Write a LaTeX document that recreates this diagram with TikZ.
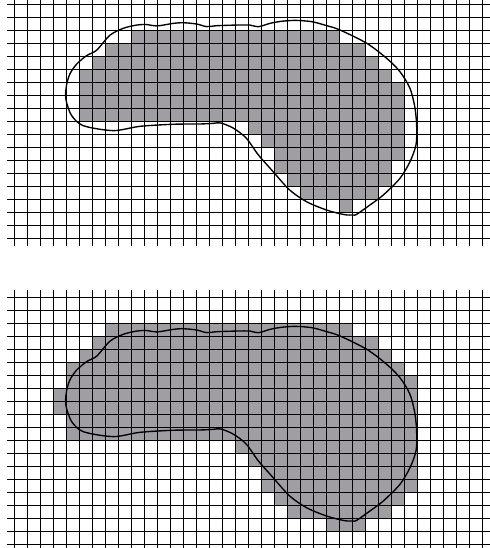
\documentclass[tikz,border=0pt]{standalone}
\usepackage{xcolor}
\definecolor{cellgray}{RGB}{160,158,163}

\begin{document}
\begin{tikzpicture}[
    x=0.5cm, y=0.5cm,
    cell/.style={fill=cellgray},
    gridline/.style={line width=0.8pt, black},
    outline/.style={line width=1.5pt, black, line join=round},
    blob/.pic={
        \draw[outline] plot[smooth cycle, tension=0.5] coordinates {
            (3.97,11.0) (4.05,11.8) (4.3,12.62) (4.82,13.38) (5.59,14.03)
            (6.36,14.45) (7.38,15.6) (8.41,16.13) (9.44,16.38) (10.2,16.42)
            (10.98,16.31) (12.26,16.51) (13.02,16.56) (14.05,16.46) (14.82,16.26)
            (15.59,16.33) (17.13,16.38) (18.15,16.38) (18.79,16.25) (19.69,16.51)
            (20.5,16.66) (21.62,16.74) (22.9,16.64) (24.0,16.35) (25.08,16.0)
            (27.13,14.98) (28.67,13.82) (29.69,12.79) (30.46,11.51) (30.85,9.98)
            (30.98,8.44) (30.92,7.15) (30.46,5.87) (29.69,4.59) (28.41,3.31)
            (27.38,2.54) (26.36,1.82) (26.1,1.77) (25.4,1.8) (24.05,2.15)
            (22.51,2.79) (21.2,3.7) (19.82,5.23) (18.79,6.4) (17.85,7.7)
            (16.87,8.45) (15.9,8.85) (15.33,8.82) (14.31,8.77) (12.26,8.75)
            (9.69,8.59) (7.64,8.26) (5.33,8.64) (4.44,9.41) (4.05,10.4)
        };
    }
]

\useasboundingbox (-1.077,-0.308) rectangle (36.615,41.846);
\clip (-1.077,-0.308) rectangle (36.615,41.846);

% upper grid: cells inside the shape
\begin{scope}[shift={(0,23.538)}]
\foreach \r/\a/\b in {15/9/24, 14/7/26, 13/6/27, 12/5/28, 11/5/29, 10/5/29, 9/5/29,
    8/18/29, 7/19/29, 6/20/29, 5/20/28, 4/21/28, 3/22/27, 2/25/25}
    \fill[cell] (\a,\r) rectangle (\b+1,\r+1);
\foreach \i in {0,...,18}
    \draw[gridline] (-0.55,\i) -- (37,\i);
\foreach \i in {0,...,36}
    \draw[gridline] (\i,-0.6) -- (\i,19);
\pic {blob};
\end{scope}

% lower grid: cells meeting the shape
\begin{scope}
\foreach \r/\a/\b in {16/7/25, 15/6/27, 14/5/28, 13/4/29, 12/4/30, 11/3/30, 10/3/30,
    9/4/30, 8/4/30, 7/17/30, 6/18/30, 5/19/30, 4/19/30, 3/20/29, 2/21/28, 1/24/26}
    \fill[cell] (\a,\r) rectangle (\b+1,\r+1);
\foreach \i in {0,...,19}
    \draw[gridline] (-0.55,\i) -- (37,\i);
\foreach \i in {0,...,36}
    \draw[gridline] (\i,-0.6) -- (\i,19.54);
\pic {blob};
\end{scope}

\end{tikzpicture}
\end{document}
